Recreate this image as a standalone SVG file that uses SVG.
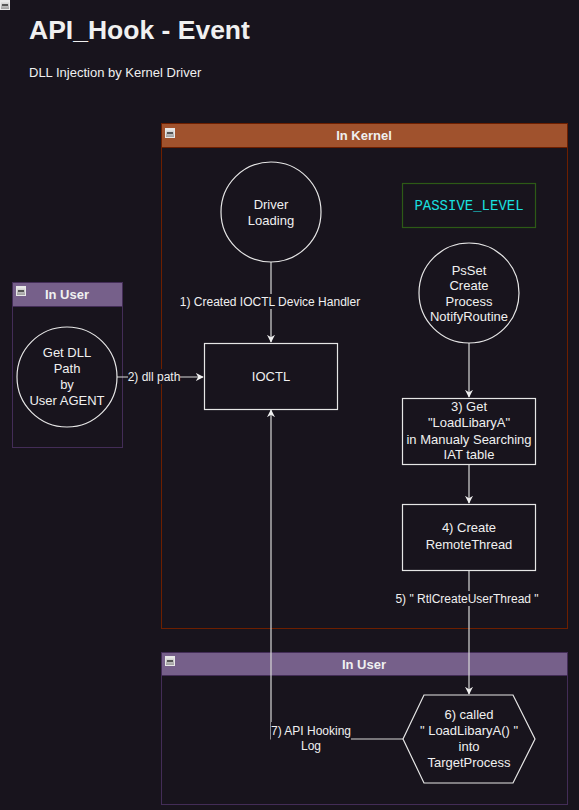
<svg xmlns="http://www.w3.org/2000/svg" width="579" height="810" viewBox="0 0 579 810">
<defs>
<style>
.t{font-family:"Liberation Sans",Arial,sans-serif;font-size:12px;fill:#f0f0f0;text-anchor:middle;}
.n{font-family:"Liberation Sans",Arial,sans-serif;font-size:13px;fill:#f0f0f0;text-anchor:middle;}
.h{font-family:"Liberation Sans",Arial,sans-serif;font-size:13px;font-weight:bold;fill:#f0f0f0;text-anchor:middle;}
.node{fill:none;stroke:#e6e6e6;stroke-width:1.2;}
.edge{fill:none;stroke:#d8d8d8;stroke-width:1.2;}
.lbl{fill:#18141d;}
</style>
<linearGradient id="ig" x1="0" y1="0" x2="0" y2="1">
<stop offset="0" stop-color="#f2f2f2"/>
<stop offset="1" stop-color="#9a9a9a"/>
</linearGradient>
<g id="icon">
<rect x="0.5" y="0.5" width="9" height="9" fill="url(#ig)" stroke="#e8e8e8" stroke-width="1"/>
<rect x="2" y="4" width="6" height="2" fill="#555"/>
</g>
<marker id="arr" viewBox="0 0 10 10" refX="9" refY="5" markerWidth="8" markerHeight="8" markerUnits="userSpaceOnUse" orient="auto">
<path d="M0,0 L10,5 L0,10 L3,5 Z" fill="#f0f0f0"/>
</marker>
</defs>
<rect x="0" y="0" width="579" height="810" fill="#18141d"/>
<use href="#icon" x="0" y="0"/>
<g id="title">
<text x="29" y="39" font-family="Liberation Sans,Arial,sans-serif" font-size="26.5" font-weight="bold" fill="#f0f0f0">API_Hook - Event</text>
<text x="29" y="77" font-family="Liberation Sans,Arial,sans-serif" font-size="13" fill="#f0f0f0">DLL Injection by Kernel Driver</text>
</g>
<g id="kernel">
<rect x="161.5" y="123.5" width="406" height="505" fill="none" stroke="#6d1f00"/>
<rect x="161.5" y="123.5" width="406" height="24" fill="#a0522d" stroke="#6d1f00"/>
<use href="#icon" x="165" y="128"/>
<text class="h" x="364" y="140">In Kernel</text>
</g>
<g id="user-left">
<rect x="12.5" y="282.5" width="110" height="165" fill="none" stroke="#432d57"/>
<rect x="12.5" y="282.5" width="110" height="24" fill="#76608a" stroke="#432d57"/>
<use href="#icon" x="16" y="286"/>
<text class="h" x="67" y="299">In User</text>
</g>
<g id="user-bottom">
<rect x="161.5" y="652.5" width="406" height="152" fill="none" stroke="#432d57"/>
<rect x="161.5" y="652.5" width="406" height="23" fill="#76608a" stroke="#432d57"/>
<use href="#icon" x="165" y="656"/>
<text class="h" x="364" y="669">In User</text>
</g>
<g id="connectors">
<path class="edge" d="M271,262 V342" marker-end="url(#arr)"/>
<rect class="lbl" x="178" y="294" width="184" height="15"/>
<text class="t" x="270" y="306">1) Created IOCTL Device Handler</text>
<path class="edge" d="M117,377 H203" marker-end="url(#arr)"/>
<rect class="lbl" x="128" y="369" width="52" height="15"/>
<text class="t" x="154" y="381">2) dll path</text>
<path class="edge" d="M469,343 V397" marker-end="url(#arr)"/>
<path class="edge" d="M469,464 V503" marker-end="url(#arr)"/>
<path class="edge" d="M469,570 V694" marker-end="url(#arr)"/>
<rect class="lbl" x="395" y="591" width="146" height="15"/>
<text class="t" x="467" y="603">5) " RtlCreateUserThread "</text>
<path class="edge" d="M403,739 H271 V410" marker-end="url(#arr)"/>
<rect class="lbl" x="271" y="722" width="80" height="32"/>
<text class="t" x="311" y="735">7) API Hooking</text>
<text class="t" x="311" y="750">Log</text>
</g>
<g id="driver-loading">
<circle class="node" cx="271" cy="212" r="50"/>
<text class="n" x="271" y="209">Driver</text>
<text class="n" x="271" y="225">Loading</text>
</g>
<g id="passive-level">
<rect x="402.5" y="183.5" width="133" height="44" fill="none" stroke="#2d5a16" stroke-width="1.2"/>
<text x="469" y="210" font-family="Liberation Mono,DejaVu Sans Mono,monospace" font-size="14" fill="#1ae0e0" text-anchor="middle">PASSIVE_LEVEL</text>
</g>
<g id="get-dll">
<circle class="node" cx="67" cy="377" r="50"/>
<text class="n" x="67" y="357">Get DLL</text>
<text class="n" x="67" y="373">Path</text>
<text class="n" x="67" y="389">by</text>
<text class="n" x="67" y="405">User AGENT</text>
</g>
<g id="ioctl">
<rect class="node" x="204.5" y="343.5" width="133" height="66"/>
<text class="n" x="271" y="381">IOCTL</text>
</g>
<g id="psset">
<circle class="node" cx="469" cy="293" r="50"/>
<text class="n" x="469" y="275">PsSet</text>
<text class="n" x="469" y="290">Create</text>
<text class="n" x="469" y="306">Process</text>
<text class="n" x="469" y="321">NotifyRoutine</text>
</g>
<g id="get-loadlibrary">
<rect class="node" x="402.5" y="398.5" width="133" height="66"/>
<text class="n" x="469" y="411">3) Get</text>
<text class="n" x="469" y="427">"LoadLibaryA"</text>
<text class="n" x="469" y="444">in Manualy Searching</text>
<text class="n" x="469" y="459">IAT table</text>
</g>
<g id="create-remote-thread">
<rect class="node" x="402.5" y="504.5" width="133" height="66"/>
<text class="n" x="469" y="532">4) Create</text>
<text class="n" x="469" y="549">RemoteThread</text>
</g>
<g id="called-loadlibrary">
<polygon class="node" points="403,739 424,695 513,695 535,739 513,783 424,783"/>
<text class="n" x="469" y="719">6) called</text>
<text class="n" x="469" y="735">" LoadLibaryA() "</text>
<text class="n" x="469" y="751">into</text>
<text class="n" x="469" y="767">TargetProcess</text>
</g>
</svg>
